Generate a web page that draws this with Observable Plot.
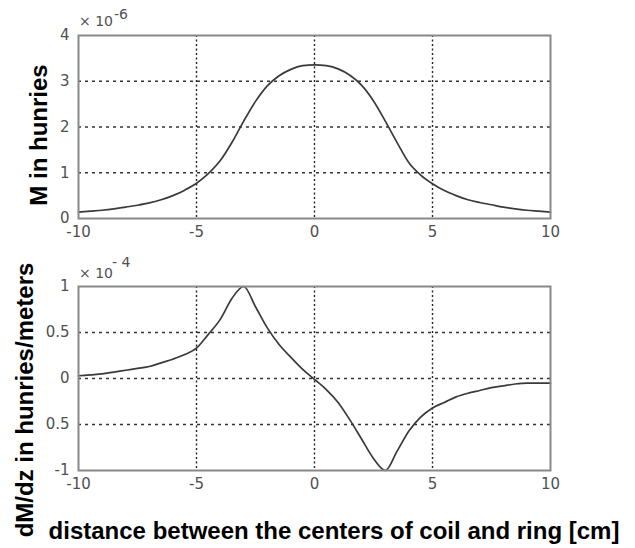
<!DOCTYPE html>
<html><head><meta charset="utf-8">
<script src="https://cdn.jsdelivr.net/npm/d3@7"></script>
<script src="https://cdn.jsdelivr.net/npm/@observablehq/plot@0.6"></script>
<style>
body{margin:0;background:#fff;}
#wrap{position:relative;width:635px;height:548px;background:#fff;overflow:hidden;font-family:"Liberation Sans",Arial,sans-serif;}
#wrap > svg{position:absolute;left:0;}
</style></head><body>
<div id="wrap"></div>
<script>
// distance between centers of coil and ring [cm]
const distance = [-10,-9.5,-9,-8.5,-8,-7.5,-7,-6.5,-6,-5.5,-5,-4.5,-4,-3.5,-3,-2.5,-2,-1.5,-1,-0.5,0,0.5,1,1.5,2,2.5,3,3.5,4,4.5,5,5.5,6,6.5,7,7.5,8,8.5,9,9.5,10];
// M in henries (x 1e-6)
const mutual = [0.14,0.16,0.18,0.21,0.25,0.29,0.34,0.41,0.50,0.62,0.77,0.98,1.26,1.66,2.13,2.56,2.90,3.12,3.26,3.34,3.36,3.34,3.27,3.13,2.91,2.57,2.13,1.66,1.22,0.95,0.76,0.61,0.50,0.41,0.35,0.30,0.25,0.21,0.18,0.16,0.14];
// dM/dz in henries/meter (x 1e-4)
const dMdz = [0.03,0.04,0.05,0.07,0.09,0.11,0.13,0.17,0.21,0.26,0.33,0.48,0.64,0.87,1.0,0.78,0.55,0.37,0.23,0.10,-0.01,-0.12,-0.26,-0.45,-0.66,-0.87,-1.0,-0.79,-0.57,-0.42,-0.32,-0.26,-0.20,-0.16,-0.13,-0.10,-0.08,-0.06,-0.05,-0.05,-0.05];

const xTicks = [-10,-5,0,5,10];
const xGrid = [-5,0,5];
const topYTicks = [0,1,2,3,4];
const topYGrid = [1,2,3];
const botYTicks = [-1,-0.5,0,0.5,1];
const botYGrid = [-0.5,0,0.5];
const botYLabels = ["-1","0.5","0","0.5","1"];

const wrap = document.getElementById("wrap");

function panel(values, yDomain, yTicks, yGrid, yFmt, top, mt, mb) {
  const data = distance.map((d, i) => ({x: d, y: values[i]}));
  const svg = Plot.plot({
    width: 635, height: 250,
    marginLeft: 78, marginRight: 85, marginTop: mt, marginBottom: mb,
    style: {fontFamily: "'DejaVu Sans', Arial, sans-serif", fontSize: "15px", color: "#505050", background: "transparent"},
    x: {domain: [-10, 10]},
    y: {domain: yDomain},
    marks: [
      Plot.ruleX(xGrid, {stroke: "#222", strokeWidth: 1.4, strokeDasharray: "2,2.5"}),
      Plot.ruleY(yGrid, {stroke: "#333", strokeWidth: 1.4, strokeDasharray: "3,4"}),
      Plot.line(data, {x: "x", y: "y", stroke: "#3a3a3a", strokeWidth: 1.7, curve: "monotone-x"}),
      Plot.frame({stroke: "#888", strokeWidth: 2}),
      Plot.axisX({ticks: xTicks, tickSize: 0, tickPadding: 8, label: null, tickFormat: d => String(d)}),
      Plot.axisY({ticks: yTicks, tickSize: 0, tickPadding: 9, label: null, tickFormat: yFmt})
    ]
  });
  svg.style.top = top + "px";
  wrap.appendChild(svg);
}

panel(mutual, [0, 4], topYTicks, topYGrid, d => String(d), 0, 35, 32);
panel(dMdz, [-1, 1], botYTicks, botYGrid, d => botYLabels[botYTicks.indexOf(d)], 250, 36, 30);

// overlay texts
const ns = "http://www.w3.org/2000/svg";
const ov = document.createElementNS(ns, "svg");
ov.setAttribute("width", 635); ov.setAttribute("height", 548);
ov.style.top = "0px"; ov.style.pointerEvents = "none";
function txt(s, x, y, opts) {
  const t = document.createElementNS(ns, "text");
  t.textContent = s;
  t.setAttribute("x", x); t.setAttribute("y", y);
  t.setAttribute("font-family", "'Liberation Sans', Arial, sans-serif");
  for (const k in opts) t.setAttribute(k, opts[k]);
  ov.appendChild(t);
}
const small = {"font-size": 14, fill: "#505050", "font-family": "'DejaVu Sans', Arial, sans-serif"};
txt("× 10", 79, 26, small);
txt("-6", 114, 19, small);
txt("× 10", 79, 278, small);
txt("- 4", 112, 267, small);
const big = {"font-size": 24, "font-weight": "bold", fill: "#000", "text-anchor": "middle"};
txt("M in hunries", 0, 0, {...big, transform: "translate(47,135) rotate(-90)"});
txt("dM/dz in hunries/meters", 0, 0, {...big, transform: "translate(33,400) rotate(-90)"});
txt("distance between the centers of coil and ring [cm]", 334, 539, big);
wrap.appendChild(ov);
</script>
</body></html>
